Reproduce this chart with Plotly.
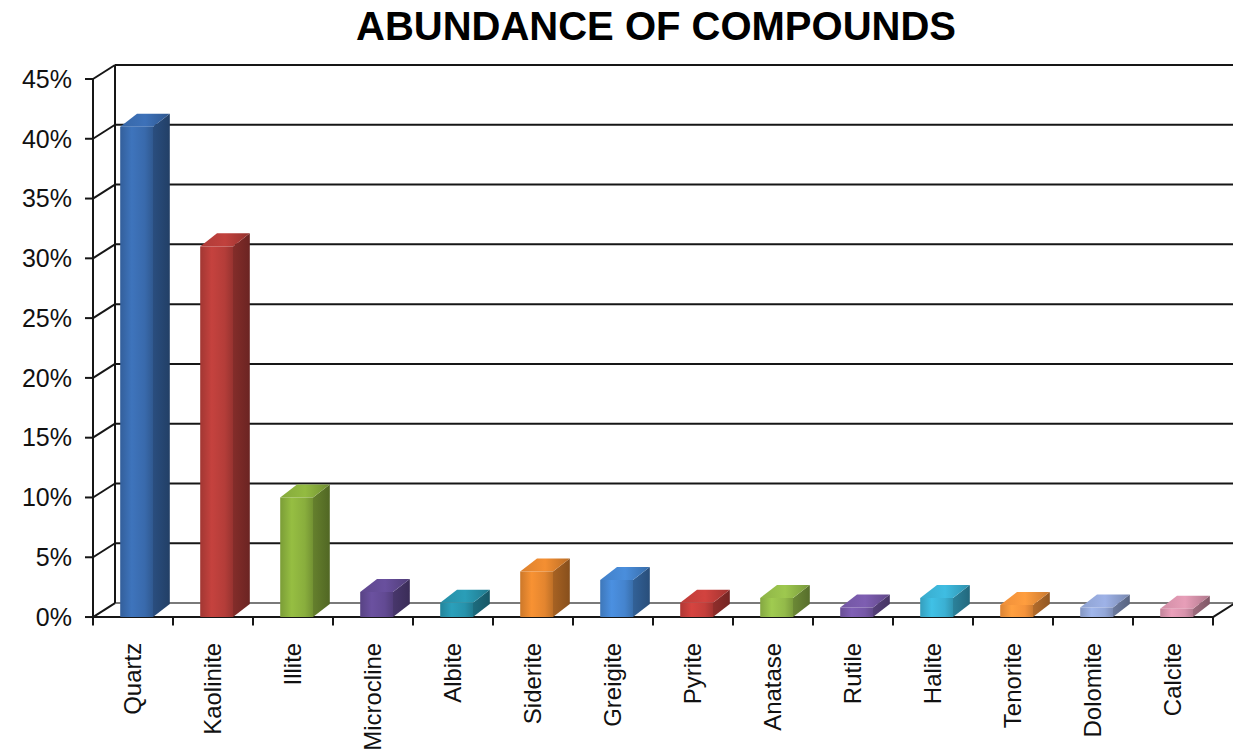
import plotly.graph_objects as go

# Mineral composition (percent of sample)
minerals = ["Quartz", "Kaolinite", "Illite", "Microcline", "Albite", "Siderite", "Greigite",
            "Pyrite", "Anatase", "Rutile", "Halite", "Tenorite", "Dolomite", "Calcite"]
abundance = [41.0, 31.0, 10.0, 2.1, 1.2, 3.8, 3.1, 1.2, 1.6, 0.8, 1.6, 1.0, 0.8, 0.7]

# Front-face base colours per column
bar_colors = [(58, 108, 176), (184, 62, 58), (140, 178, 62), (100, 76, 150), (40, 150, 175),
              (232, 136, 48), (70, 135, 210), (200, 64, 60), (150, 190, 75), (120, 90, 170),
              (60, 180, 215), (250, 150, 60), (150, 170, 220), (220, 150, 175)]

y_ticks = [0, 5, 10, 15, 20, 25, 30, 35, 40, 45]
y_tick_text = [f"{t}%" for t in y_ticks]

# Oblique projection of the chart box (depth offsets in axis units)
WALL_DX, WALL_DY = 0.275, 1.17     # floor / wall depth
BAR_DX, BAR_DY = 0.21, 1.09        # column depth
BAR_OFF, BAR_W = 0.34, 0.41        # front face start and width within a category slot
N = len(minerals)
X0, X1 = -0.5, N - 0.5

LINE = "#161616"
FONT = "Liberation Sans, Arial, sans-serif"


def rgb(c, k=1.0):
    r, g, b = (max(0, min(255, int(round(v * k)))) for v in c)
    return f"rgb({r},{g},{b})"


def seg(xs, ys, color=LINE, width=2):
    return go.Scatter(x=xs, y=ys, mode="lines", line=dict(color=color, width=width),
                      hoverinfo="skip", showlegend=False)


def face(xs, ys, scale):
    return go.Scatter(x=xs, y=ys, mode="lines", fill="toself", line=dict(width=0),
                      fillgradient=dict(type="horizontal", colorscale=scale),
                      hoverinfo="skip", showlegend=False)


fig = go.Figure()

# Back wall gridlines and floor back edge
for t in y_ticks:
    col = "#7a7a7a" if t == 0 else LINE
    fig.add_trace(seg([X0 + WALL_DX, X1 + WALL_DX + 1], [t + WALL_DY, t + WALL_DY], col))
# Side wall diagonals
for t in y_ticks:
    fig.add_trace(seg([X0, X0 + WALL_DX], [t, t + WALL_DY]))
# Back-left vertical edge and front vertical axis
fig.add_trace(seg([X0 + WALL_DX, X0 + WALL_DX], [WALL_DY, 45 + WALL_DY]))
fig.add_trace(seg([X0, X0], [-0.3, 45]))
# Value axis tick marks
for t in y_ticks:
    fig.add_trace(seg([X0 - 0.1, X0], [t, t]))
# Floor front edge, right edge, category tick marks
fig.add_trace(seg([X0, X1], [0, 0]))
fig.add_trace(seg([X1, X1 + WALL_DX], [0, WALL_DY]))
for k in range(N + 1):
    fig.add_trace(seg([X0 + k, X0 + k], [0, -0.7]))

# 3D columns: side, top and front faces
for i, (v, c) in enumerate(zip(abundance, bar_colors)):
    xl = i - 0.5 + BAR_OFF
    xr = xl + BAR_W
    # side face
    fig.add_trace(face([xr, xr + BAR_DX, xr + BAR_DX, xr, xr],
                       [0, BAR_DY, v + BAR_DY, v, 0],
                       [[0, rgb(c, 0.72)], [1, rgb(c, 0.58)]]))
    # top face
    fig.add_trace(face([xl, xr, xr + BAR_DX, xl + BAR_DX, xl],
                       [v, v, v + BAR_DY, v + BAR_DY, v],
                       [[0, rgb(c, 0.95)], [0.5, rgb(c, 1.05)], [1, rgb(c, 0.8)]]))
    # front face
    fig.add_trace(face([xl, xr, xr, xl, xl],
                       [0, 0, v, v, 0],
                       [[0, rgb(c, 0.88)], [0.35, rgb(c, 1.07)], [0.75, rgb(c, 0.98)],
                        [1, rgb(c, 0.82)]]))

fig.update_layout(
    width=1233, height=754,
    margin=dict(l=85, r=0, t=62, b=125, autoexpand=False),
    paper_bgcolor="white", plot_bgcolor="white",
    showlegend=False,
    font=dict(family=FONT, color="#111111"),
    title=dict(text="<b>ABUNDANCE OF COMPOUNDS</b>", xref="container", x=656 / 1233,
               xanchor="center", yref="container", y=1 - 26 / 754, yanchor="middle",
               font=dict(size=40, color="#000000", family=FONT)),
    xaxis=dict(range=[-0.6, 13.75], tickmode="array", tickvals=list(range(N)),
               ticktext=minerals, tickangle=-90, ticks="", showgrid=False,
               zeroline=False, showline=False, tickfont=dict(size=24, family=FONT),
               ticklabelstandoff=8, automargin=False, fixedrange=True),
    yaxis=dict(range=[-1.0, 46.42], tickmode="array", tickvals=y_ticks, ticktext=y_tick_text,
               ticks="", showgrid=False, zeroline=False, showline=False,
               tickfont=dict(size=25, family=FONT), ticklabelstandoff=12,
               automargin=False, fixedrange=True),
)

fig.write_html("out.html")
